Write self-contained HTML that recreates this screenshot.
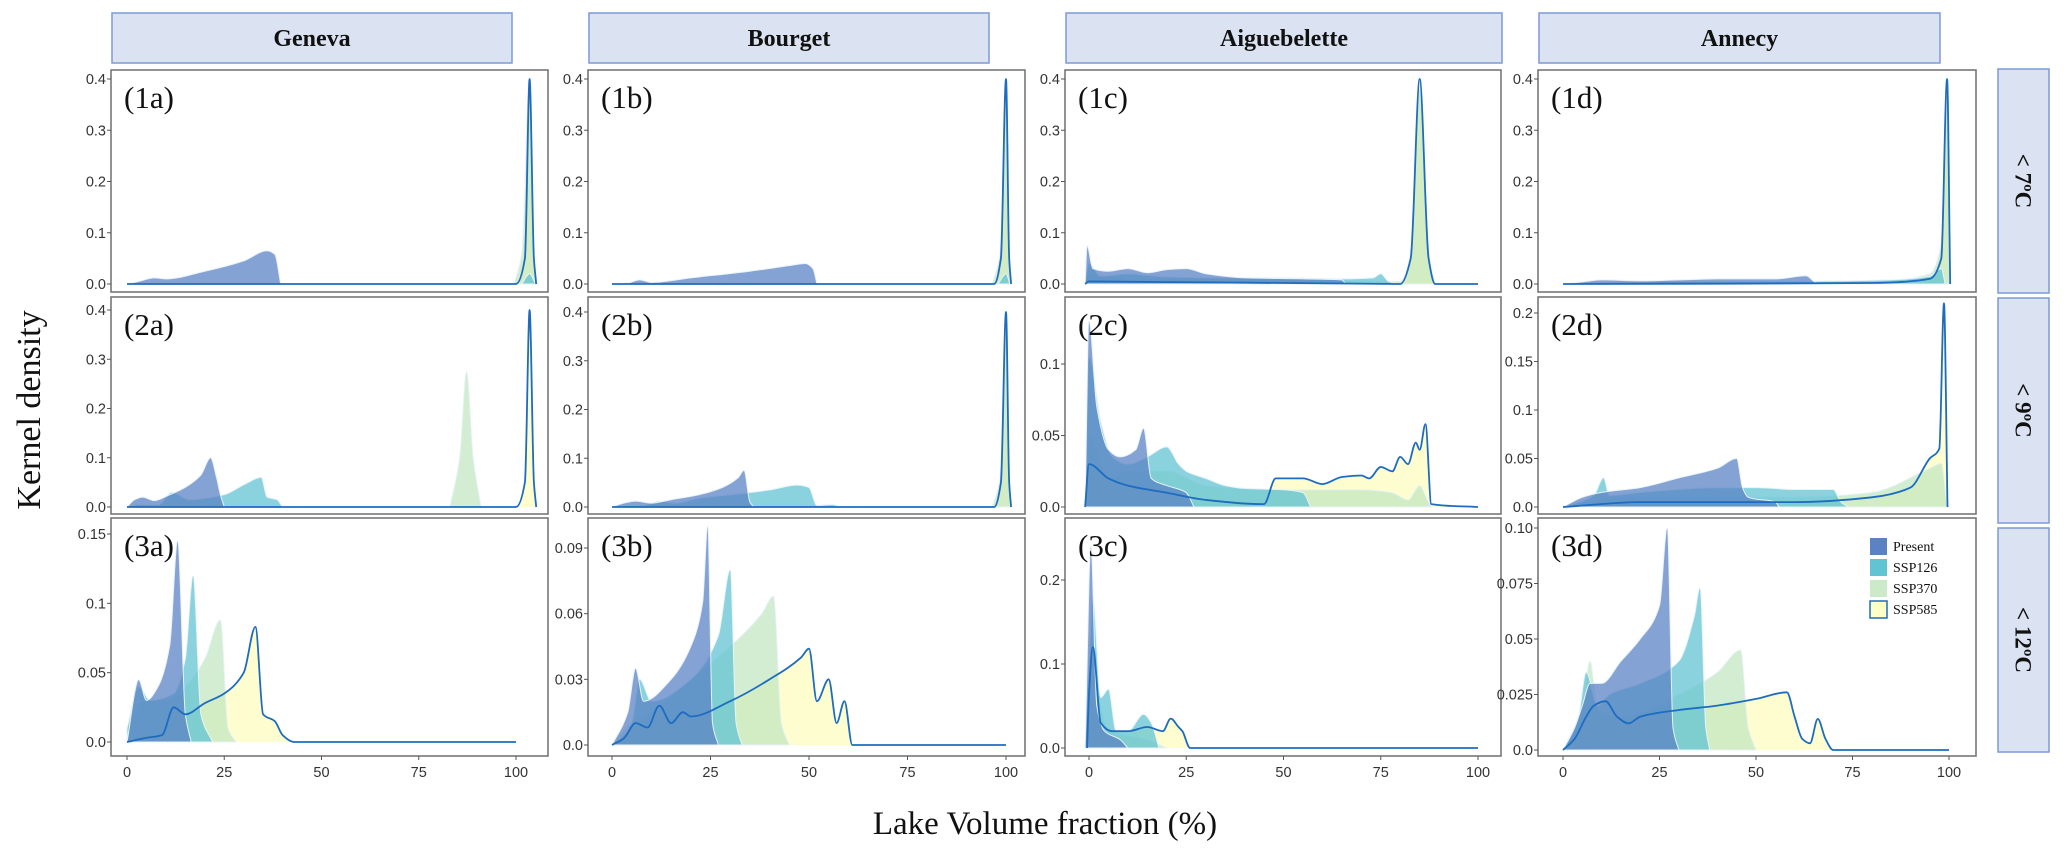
<!DOCTYPE html>
<html><head><meta charset="utf-8"><style>
body{margin:0;background:#fff;}
svg{display:block;}
</style></head><body>
<svg id="fig" width="2067" height="852" viewBox="0 0 2067 852" xmlns="http://www.w3.org/2000/svg"></svg>
<script>
// ---- data (x in %, y in density) ----
const categories = ["Present","SSP126","SSP370","SSP585"];
const lakes = ["Geneva","Bourget","Aiguebelette","Annecy"];
const rowsLbl = ["< 7ºC","< 9ºC","< 12ºC"];
const xTicks = [0,25,50,75,100];

const p1a_present=[[0,0],[3,0.005],[7,0.012],[10,0.01],[20,0.025],[30,0.045],[36,0.065],[38,0.058],[39.5,0]];
const p1a_ssp126=[[101.5,0],[103.5,0.02],[105,0]];
const p1a_ssp370=[[99.5,0],[101.5,0.06],[103.5,0.4],[104.5,0.06],[105,0]];
const p1a_ssp585=[[0,0],[100,0],[102.3,0.05],[103.5,0.4],[104.6,0.05],[105.2,0]];

const p1b_present=[[0,0],[4,0.002],[7,0.008],[10,0.003],[20,0.012],[35,0.025],[46,0.037],[49,0.04],[51,0.03],[52,0]];
const p1b_ssp126=[[98,0],[100,0.02],[101,0]];
const p1b_ssp370=[[96.5,0],[98.5,0.06],[100,0.4],[100.8,0.06],[101.2,0]];
const p1b_ssp585=[[0,0],[97,0],[98.7,0.05],[100,0.4],[100.8,0.05],[101.3,0]];

const p1c_present=[[-1,0],[-0.5,0.075],[1,0.03],[5,0.025],[10,0.03],[15,0.022],[20,0.028],[25,0.03],[30,0.02],[40,0.012],[55,0.01],[65,0.008],[66,0]];
const p1c_ssp126=[[-1,0],[0,0.04],[3,0.015],[10,0.02],[20,0.014],[35,0.012],[50,0.012],[65,0.01],[73,0.012],[75,0.02],[77,0.005],[80,0]];
const p1c_ssp370=[[-1,0],[0,0.02],[10,0.01],[40,0.008],[70,0.006],[80,0.005],[82.5,0.05],[85,0.38],[87.5,0.05],[89,0]];
const p1c_ssp585=[[-1,0],[0,0.005],[80,0],[82.7,0.05],[85,0.4],[87.3,0.05],[89,0],[100,0]];

const p1d_present=[[0,0],[5,0.004],[10,0.008],[20,0.006],[30,0.008],[40,0.01],[55,0.01],[63,0.016],[65,0.005],[66,0]];
const p1d_ssp126=[[0,0],[10,0.003],[30,0.005],[60,0.005],[85,0.008],[95,0.015],[98,0.03],[99,0]];
const p1d_ssp370=[[0,0],[40,0.002],[80,0.005],[95,0.02],[98,0.08],[99.5,0.38],[100.2,0]];
const p1d_ssp585=[[0,0],[80,0.002],[95,0.01],[98,0.05],[99.5,0.4],[100.3,0]];

const p2a_present=[[0,0],[2,0.015],[4,0.02],[7,0.013],[11,0.025],[15,0.04],[19,0.065],[21.5,0.1],[23,0.06],[24,0.025],[25,0]];
const p2a_ssp126=[[0,0],[3,0.005],[8,0.004],[11.5,0.03],[16,0.015],[25,0.025],[30,0.045],[34.5,0.06],[36,0.02],[38.5,0.015],[40,0]];
const p2a_ssp370=[[83,0],[85.5,0.1],[87.3,0.275],[89,0.1],[91,0]];
const p2a_ssp585=[[0,0],[100,0],[102.3,0.05],[103.5,0.4],[104.6,0.05],[105.2,0]];

const p2b_present=[[0,0],[3,0.008],[6,0.012],[10,0.008],[15,0.015],[22,0.025],[28,0.04],[32,0.06],[33.5,0.075],[35,0.01],[36,0]];
const p2b_ssp126=[[0,0],[8,0.003],[12,0.012],[16,0.008],[22,0.018],[30,0.025],[40,0.035],[47,0.045],[50,0.04],[52,0.003],[56,0.005],[58,0]];
const p2b_ssp370=[[96.5,0],[98.5,0.06],[100,0.39],[100.8,0.06],[101.2,0]];
const p2b_ssp585=[[0,0],[97,0],[98.7,0.05],[100,0.4],[100.8,0.05],[101.3,0]];

const p2c_present=[[-1,0],[0,0.13],[2,0.07],[5,0.04],[8,0.035],[12,0.04],[14,0.055],[16,0.02],[20,0.015],[25,0.01],[27,0]];
const p2c_ssp126=[[-1,0],[0,0.105],[3,0.06],[6,0.035],[10,0.03],[15,0.035],[20,0.042],[23,0.03],[25,0.025],[30,0.02],[35,0.015],[40,0.013],[50,0.012],[55,0.01],[57,0]];
const p2c_ssp370=[[-1,0],[0,0.05],[5,0.02],[10,0.025],[20,0.025],[30,0.015],[45,0.012],[60,0.012],[70,0.012],[78,0.01],[82,0.005],[85,0.015],[87,0.005],[88,0]];
const p2c_ssp585=[[-1,0],[0,0.03],[5,0.02],[10,0.015],[20,0.01],[30,0.005],[45,0.002],[48,0.02],[55,0.02],[60,0.016],[65,0.021],[70,0.022],[72,0.02],[75,0.028],[78,0.025],[80,0.035],[82,0.03],[84,0.045],[85,0.04],[86.5,0.058],[88,0.002],[100,0]];

const p2d_present=[[0,0],[5,0.01],[10,0.015],[20,0.02],[30,0.03],[40,0.04],[45,0.05],[46.5,0.02],[48,0.01],[55,0.005],[56,0]];
const p2d_ssp126=[[0,0],[8,0.012],[10.5,0.03],[12,0.012],[20,0.015],[40,0.02],[50,0.02],[60,0.018],[70,0.018],[72,0.005],[74,0]];
const p2d_ssp370=[[0,0],[15,0.01],[30,0.01],[60,0.01],[80,0.015],[95,0.04],[98,0.045],[99.5,0]];
const p2d_ssp585=[[0,0],[20,0.005],[60,0.005],[80,0.01],[90,0.02],[95,0.05],[97.5,0.06],[98.7,0.21],[99.6,0]];

const p3a_present=[[0,0],[3,0.045],[5,0.03],[8,0.04],[11,0.07],[13,0.145],[15,0.02],[16.5,0]];
const p3a_ssp126=[[0,0.01],[3,0.04],[6,0.03],[12,0.035],[15,0.06],[17,0.12],[19,0.02],[22,0]];
const p3a_ssp370=[[0,0.01],[4,0.03],[10,0.03],[15,0.04],[20,0.06],[24,0.088],[26,0.01],[28,0]];
const p3a_ssp585=[[0,0],[5,0.003],[9,0.005],[12,0.025],[15,0.02],[20,0.028],[25,0.035],[30,0.05],[33,0.083],[35,0.02],[38,0.015],[40,0.005],[43,0],[100,0]];

const p3b_present=[[0,0],[4,0.015],[6,0.035],[8,0.02],[15,0.03],[20,0.045],[23,0.065],[24.3,0.1],[25.5,0.01],[27,0]];
const p3b_ssp126=[[0,0],[5,0.01],[7,0.03],[10,0.02],[20,0.03],[27,0.05],[30,0.08],[31.5,0.01],[33,0]];
const p3b_ssp370=[[0,0],[5,0.01],[10,0.015],[20,0.03],[30,0.045],[38,0.06],[41,0.068],[43,0.01],[45,0]];
const p3b_ssp585=[[0,0],[3,0.003],[6,0.01],[9,0.008],[12,0.018],[15,0.01],[18,0.015],[20,0.013],[30,0.02],[40,0.03],[48,0.04],[50,0.044],[52,0.02],[55,0.03],[57,0.01],[59,0.02],[61,0],[100,0]];

const p3c_present=[[-1,0],[0.5,0.24],[2,0.05],[4,0.02],[8,0.01],[10,0]];
const p3c_ssp126=[[-1,0],[0,0.1],[1,0.18],[3,0.06],[5,0.07],[7,0.02],[10,0.02],[14,0.04],[16,0.03],[18,0]];
const p3c_ssp370=[[-1,0],[0,0.1],[5,0.02],[10,0.015],[15,0.01],[20,0]];
const p3c_ssp585=[[-0.5,0],[0,0.065],[1,0.12],[3,0.03],[6,0.02],[10,0.02],[15,0.025],[19,0.02],[21,0.035],[23,0.025],[24,0.02],[26,0],[100,0]];

const p3d_present=[[0,0],[3,0.01],[5,0.02],[7,0.03],[10,0.03],[15,0.04],[20,0.05],[25,0.065],[27,0.1],[28.5,0.01],[30,0]];
const p3d_ssp126=[[0,0],[4,0.015],[6,0.035],[9,0.02],[12,0.025],[20,0.03],[30,0.04],[34,0.06],[35.5,0.073],[37,0.01],[38,0]];
const p3d_ssp370=[[0,0],[5,0.02],[7,0.04],[9,0.018],[15,0.015],[30,0.025],[40,0.035],[46,0.045],[48,0.01],[50,0]];
const p3d_ssp585=[[0,0],[3,0.005],[6,0.015],[8,0.02],[11,0.022],[14,0.015],[17,0.012],[20,0.015],[30,0.018],[40,0.02],[50,0.023],[58,0.026],[60,0.015],[62,0.005],[64,0.003],[66,0.014],[68,0.005],[70,0],[100,0]];

const yTicks_row1=[0,0.1,0.2,0.3,0.4];
const yTicks_2a=[0,0.1,0.2,0.3,0.4];
const yTicks_2c=[0,0.05,0.1];
const yTicks_2d=[0,0.05,0.1,0.15,0.2];
const yTicks_3a=[0,0.05,0.1,0.15];
const yTicks_3b=[0,0.03,0.06,0.09];
const yTicks_3c=[0,0.1,0.2];
const yTicks_3d=[0,0.025,0.05,0.075,0.1];
const yTickLbl_row1=["0.0","0.1","0.2","0.3","0.4"];
const yTickLbl_2c=["0.0","0.05","0.1"];
const yTickLbl_2d=["0.0","0.05","0.1","0.15","0.2"];
const yTickLbl_3a=["0.0","0.05","0.1","0.15"];
const yTickLbl_3b=["0.0","0.03","0.06","0.09"];
const yTickLbl_3c=["0.0","0.1","0.2"];
const yTickLbl_3d=["0.0","0.025","0.05","0.075","0.10"];

// ---- layout ----
const NS="http://www.w3.org/2000/svg";
const svg=document.getElementById('fig');
const colL=[111,588,1065,1538], colR=[548,1025,1501,1976];
const x0px=[127,612,1089,1563], x100px=[516,1006,1478,1949];
const rowT=[70,297,518], rowB=[292,514,756];
const COL={Present:"#5b83c4",SSP126:"#62c3d3",SSP370:"#bfe5bd",SSP585:"#fdfdc8"};
const SERIF='"Liberation Serif", serif', SANS='"Liberation Sans", sans-serif';

function mk(tag,attrs,parent){const e=document.createElementNS(NS,tag);for(const k in attrs)e.setAttribute(k,attrs[k]);(parent||svg).appendChild(e);return e;}

const panels=[
 {id:"1a",r:0,c:0,d:[p1a_present,p1a_ssp126,p1a_ssp370,p1a_ssp585],yt:yTicks_row1,yl:yTickLbl_row1,base:284,topv:0.4,topp:79},
 {id:"1b",r:0,c:1,d:[p1b_present,p1b_ssp126,p1b_ssp370,p1b_ssp585],yt:yTicks_row1,yl:yTickLbl_row1,base:284,topv:0.4,topp:79},
 {id:"1c",r:0,c:2,d:[p1c_present,p1c_ssp126,p1c_ssp370,p1c_ssp585],yt:yTicks_row1,yl:yTickLbl_row1,base:284,topv:0.4,topp:79},
 {id:"1d",r:0,c:3,d:[p1d_present,p1d_ssp126,p1d_ssp370,p1d_ssp585],yt:yTicks_row1,yl:yTickLbl_row1,base:284,topv:0.4,topp:79},
 {id:"2a",r:1,c:0,d:[p2a_present,p2a_ssp126,p2a_ssp370,p2a_ssp585],yt:yTicks_2a,yl:yTickLbl_row1,base:507,topv:0.4,topp:310},
 {id:"2b",r:1,c:1,d:[p2b_present,p2b_ssp126,p2b_ssp370,p2b_ssp585],yt:yTicks_2a,yl:yTickLbl_row1,base:507,topv:0.4,topp:312},
 {id:"2c",r:1,c:2,d:[p2c_present,p2c_ssp126,p2c_ssp370,p2c_ssp585],yt:yTicks_2c,yl:yTickLbl_2c,base:507,topv:0.1,topp:364},
 {id:"2d",r:1,c:3,d:[p2d_present,p2d_ssp126,p2d_ssp370,p2d_ssp585],yt:yTicks_2d,yl:yTickLbl_2d,base:507,topv:0.2,topp:313},
 {id:"3a",r:2,c:0,d:[p3a_present,p3a_ssp126,p3a_ssp370,p3a_ssp585],yt:yTicks_3a,yl:yTickLbl_3a,base:742,topv:0.15,topp:534},
 {id:"3b",r:2,c:1,d:[p3b_present,p3b_ssp126,p3b_ssp370,p3b_ssp585],yt:yTicks_3b,yl:yTickLbl_3b,base:745,topv:0.09,topp:548},
 {id:"3c",r:2,c:2,d:[p3c_present,p3c_ssp126,p3c_ssp370,p3c_ssp585],yt:yTicks_3c,yl:yTickLbl_3c,base:748,topv:0.2,topp:580},
 {id:"3d",r:2,c:3,d:[p3d_present,p3d_ssp126,p3d_ssp370,p3d_ssp585],yt:yTicks_3d,yl:yTickLbl_3d,base:750,topv:0.1,topp:528}
];

// monotone cubic (Fritsch-Carlson) path in pixel space - no overshoot
function smoothPath(pts){
  const n=pts.length;
  let d="M"+pts[0][0].toFixed(1)+","+pts[0][1].toFixed(1);
  if(n<2)return d;
  const dx=[],s=[];
  for(let i=0;i<n-1;i++){dx[i]=Math.max(1e-6,pts[i+1][0]-pts[i][0]);s[i]=(pts[i+1][1]-pts[i][1])/dx[i];}
  const m=[];
  m[0]=s[0];m[n-1]=s[n-2];
  for(let i=1;i<n-1;i++){
    if(s[i-1]*s[i]<=0)m[i]=0;
    else{const w1=2*dx[i]+dx[i-1],w2=dx[i]+2*dx[i-1];m[i]=(w1+w2)/(w1/s[i-1]+w2/s[i]);}
  }
  for(let i=0;i<n-1;i++){
    const h=dx[i]/3;
    const c1x=pts[i][0]+h,c1y=pts[i][1]+m[i]*h;
    const c2x=pts[i+1][0]-h,c2y=pts[i+1][1]-m[i+1]*h;
    d+=" C"+c1x.toFixed(1)+","+c1y.toFixed(1)+" "+c2x.toFixed(1)+","+c2y.toFixed(1)+" "+pts[i+1][0].toFixed(1)+","+pts[i+1][1].toFixed(1);
  }
  return d;
}

// headers
lakes.forEach((n,c)=>{
  const g=mk('g',{});
  
  
  const w=(c==2?colR[c]-colL[c]:colR[c]-colL[c]-37);
  mk('rect',{x:colL[c]+1,y:13,width:w,height:50,fill:"#dbe3f3",stroke:"#7c9ad6","stroke-width":1.5},g);
  const t=mk('text',{x:colL[c]+1+w/2,y:46,"text-anchor":"middle","font-family":SERIF,"font-weight":"bold","font-size":24,fill:"#111"},g);
  t.textContent=n;
});
// row strips
rowsLbl.forEach((n,r)=>{
  const g=mk('g',{});
  
  
  const y1=[69,298,528][r],y2=[293,523,752][r];
  mk('rect',{x:1998,y:y1,width:51,height:y2-y1,fill:"#dbe3f3",stroke:"#7c9ad6","stroke-width":1.5},g);
  const cy=(y1+y2)/2;
  const t=mk('text',{x:2023,y:cy,"text-anchor":"middle","dominant-baseline":"central","font-family":SERIF,"font-weight":"bold","font-size":23,fill:"#111",transform:"rotate(90 2023 "+cy+")"},g);
  t.textContent=n;
});

panels.forEach(p=>{
  const g=mk('g',{});
  
  
  const L=colL[p.c],R=colR[p.c],T=rowT[p.r],B=rowB[p.r];
  const xs=v=>x0px[p.c]+(x100px[p.c]-x0px[p.c])*v/100;
  const ys=v=>p.base-(p.base-p.topp)*v/p.topv;
  mk('rect',{x:L,y:T,width:R-L,height:B-T,fill:"#fff",stroke:"#777","stroke-width":1.6},g);
  p.yt.forEach((v,i)=>{
    const y=ys(v);
    const tk=mk('line',{x1:L-4,x2:L,y1:y,y2:y,stroke:"#555","stroke-width":1},g);
    
    
    const t=mk('text',{x:L-5,y:y+5,"text-anchor":"end","font-family":SANS,"font-size":14.5,fill:"#333"},g);
    
    
    t.textContent=p.yl[i];
  });
  if(p.r==2){
    xTicks.forEach(v=>{
      const x=xs(v);
      const tk=mk('line',{x1:x,x2:x,y1:B,y2:B+4,stroke:"#555","stroke-width":1},g);
      
      
      const t=mk('text',{x:x,y:B+21,"text-anchor":"middle","font-family":SANS,"font-size":14.5,fill:"#333"},g);
      
      
      t.textContent=v;
    });
  }
  const clipId='clip'+p.id;
  const cp=mk('clipPath',{id:clipId},g);
  mk('rect',{x:L+1,y:T+1,width:R-L-2,height:B-T-2},cp);
  const area=mk('g',{"clip-path":"url(#"+clipId+")"},g);
  [3,2,1,0].forEach(si=>{
    const pts=p.d[si].map(q=>[xs(q[0]),ys(q[1])]);
    const d=smoothPath(pts)+" L"+pts[pts.length-1][0].toFixed(1)+","+p.base+" L"+pts[0][0].toFixed(1)+","+p.base+" Z";
    const a=mk('path',{d:d,fill:COL[categories[si]],"fill-opacity":si==3?0.85:(si==2?0.7:0.75),stroke:si==3?"none":"#e8f2f8","stroke-width":1},area);
    
    
  });
  const pts=p.d[3].map(q=>[xs(q[0]),ys(q[1])]);
  const ln=mk('path',{d:smoothPath(pts),fill:"none",stroke:"#1d6cc0","stroke-width":1.8},area);
  
  
  const lbl=mk('text',{x:L+13,y:T+38,"font-family":SERIF,"font-size":31,fill:"#111"},g);
  
  
  lbl.textContent="("+p.id+")";
});

// legend
const lg=mk('g',{});


categories.forEach((n,i)=>{
  const y=538+i*21;
  const e=mk('g',{},lg);
  
  
  mk('rect',{x:1870,y:y,width:17,height:17,fill:COL[n],"fill-opacity":i==2?0.8:1,stroke:i==3?"#1d6cc0":"none","stroke-width":1.5},e);
  const t=mk('text',{x:1893,y:y+13,"font-family":SERIF,"font-size":14,fill:"#111"},e);
  t.textContent=n;
});

const yt=mk('text',{x:40,y:410,"text-anchor":"middle","font-family":SERIF,"font-size":34,fill:"#111",transform:"rotate(-90 40 410)"});


yt.textContent="Kernel density";
const xt=mk('text',{x:1045,y:834,"text-anchor":"middle","font-family":SERIF,"font-size":33,fill:"#111"});


xt.textContent="Lake Volume fraction (%)";
</script>
</body></html>
